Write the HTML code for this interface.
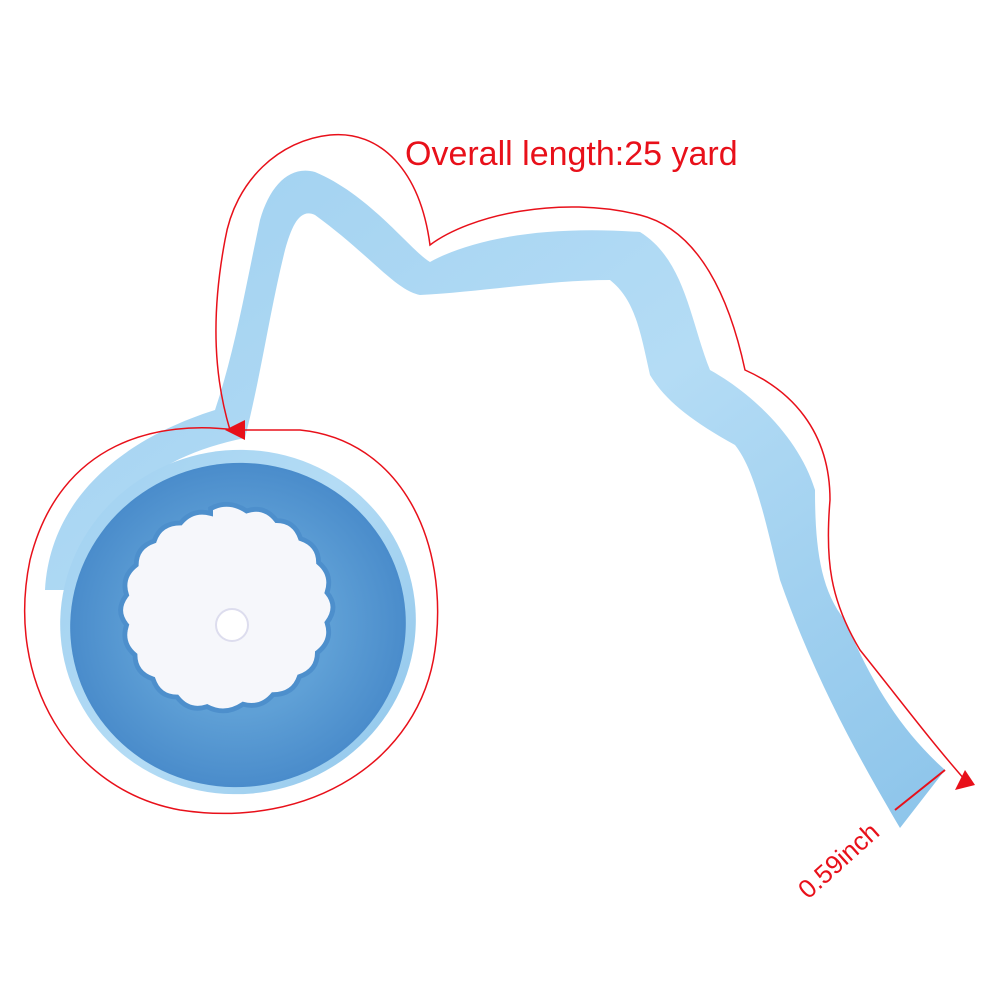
<!DOCTYPE html>
<html><head><meta charset="utf-8"><style>
html,body{margin:0;padding:0;background:#fff;}
svg{display:block}
text{font-family:"Liberation Sans",sans-serif;fill:#e8101a}
</style></head><body>
<svg width="1002" height="1002" viewBox="0 0 1002 1002" xmlns="http://www.w3.org/2000/svg">
<defs>
<linearGradient id="rb" x1="0" y1="0" x2="1" y2="1">
<stop offset="0" stop-color="#9fd0f0"/><stop offset="0.5" stop-color="#b4dcf5"/><stop offset="1" stop-color="#8cc4ea"/>
</linearGradient>
<radialGradient id="sp" cx="0.5" cy="0.5" r="0.5">
<stop offset="0.55" stop-color="#5fa0d6"/><stop offset="1" stop-color="#4a8ccb"/>
</radialGradient>
</defs>
<!-- ribbon tail -->
<path d="M45,590 C50,500 120,440 215,410 C235,350 245,290 260,220 C270,185 290,165 315,172 C370,195 410,250 430,262 C470,240 540,225 640,232 C685,260 690,320 710,370 C755,395 800,440 815,490 C815,545 820,590 845,620 C870,680 900,730 945,770 L900,828 C860,760 815,680 780,580 C765,520 755,470 735,445 C690,420 665,400 650,375 C640,330 635,300 610,280 C550,280 480,292 420,295 C395,290 370,255 315,215 C300,208 292,225 285,250 C270,310 262,370 245,438 C160,455 95,500 85,590 Z" fill="url(#rb)"/>
<!-- spool -->
<ellipse cx="238" cy="622" rx="178" ry="172" transform="rotate(-10 238 622)" fill="url(#rb)"/>
<ellipse cx="238" cy="625" rx="168" ry="162" transform="rotate(-10 238 625)" fill="url(#sp)"/>
<g transform="translate(225,607) scale(1.2) translate(-237,-587)">
<path d="M225,505 q15,-8 30,2 q15,-5 25,8 q15,0 20,15 q15,5 15,20 q12,10 7,25 q10,12 0,25 q5,15 -8,25 q0,15 -15,20 q-5,15 -22,15 q-10,12 -25,8 q-15,10 -30,2 q-15,5 -25,-8 q-15,0 -20,-15 q-15,-5 -15,-20 q-12,-10 -7,-25 q-10,-12 0,-25 q-5,-15 8,-25 q0,-15 15,-20 q5,-15 22,-15 q10,-12 25,-8z" fill="#f6f7fb" stroke="#4d8fcc" stroke-width="4"/>
</g>
<circle cx="232" cy="625" r="16" fill="#fff" stroke="#dde" stroke-width="2"/>
<!-- red outline -->
<path d="M230,430 C215,380 210,320 225,240 C235,180 280,140 330,135 C380,130 420,170 430,245 C470,215 560,195 640,215 C700,230 730,300 745,370 C790,390 830,430 830,500 C825,560 830,600 860,650 C900,700 930,740 965,780" fill="none" stroke="#e8101a" stroke-width="1.5"/>
<path d="M235,430 C160,420 60,440 30,560 C5,680 70,790 180,810 C310,830 420,760 435,650 C450,540 400,440 300,430 L240,430" fill="none" stroke="#e8101a" stroke-width="1.5"/>
<polygon points="225,430 245,420 245,440" fill="#e8101a"/>
<polygon points="975,785 955,790 965,770" fill="#e8101a"/>
<line x1="895" y1="810" x2="945" y2="770" stroke="#e8101a" stroke-width="2"/>
<text x="405" y="165" font-size="34">Overall length:25 yard</text>
<text x="0" y="0" font-size="26" transform="translate(808,900) rotate(-42)">0.59inch</text>
</svg>
</body></html>
